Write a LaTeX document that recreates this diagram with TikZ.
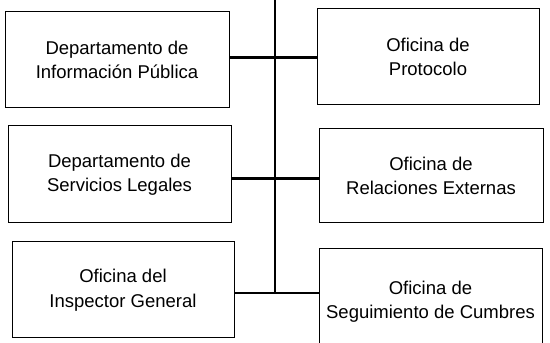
\documentclass[tikz,border=0pt]{standalone}
\usepackage{fontspec}
\setmainfont{Liberation Sans}
\usetikzlibrary{positioning,calc}
\tikzset{
	oficina/.style={draw, line width=1pt, inner sep=0pt, outer sep=0pt, align=center,
		minimum width=223pt, minimum height=96pt, font=\fontsize{18.5}{24.5}\selectfont},
	rama/.style={line width=3pt},
	tronco/.style={line width=2pt}
}
\begin{document}
\begin{tikzpicture}[x=1pt,y=1pt]
	\useasboundingbox (0,0) rectangle (550,343);
	\node[oficina, minimum width=224pt] (info) at (117,283) {Departamento de\\Información Pública};
	\node[oficina, minimum width=222pt] (proto) at (428,286) {Oficina de\\Protocolo};
	\node[oficina, minimum height=97pt] (legal) at (119.5,168.5) {Departamento de\\Servicios Legales};
	\node[oficina, minimum width=224pt, minimum height=94pt] (rela) at (431,167) {Oficina de\\Relaciones Externas};
	\node[oficina, minimum width=222pt] (insp) at (123,53) {Oficina del\\Inspector General};
	\node[oficina, minimum height=105pt] (cumb) at (430.5,41.5) {Oficina de\\Seguimiento de Cumbres};
	
	\coordinate (top) at (275,345);
	\coordinate (t1) at (275,285);
	\coordinate (t2) at (275,164);
	\coordinate (t3) at (275,50);
	
	\draw[tronco] (top) -- (t3); %%% TRONCO
	\draw[rama] (info.east |- t1) -- (proto.west |- t1);
	\draw[rama] (legal.east |- t2) -- (rela.west |- t2);
	\draw[tronco] (insp.east |- t3) -- (cumb.west |- t3);
\end{tikzpicture}
\end{document}
